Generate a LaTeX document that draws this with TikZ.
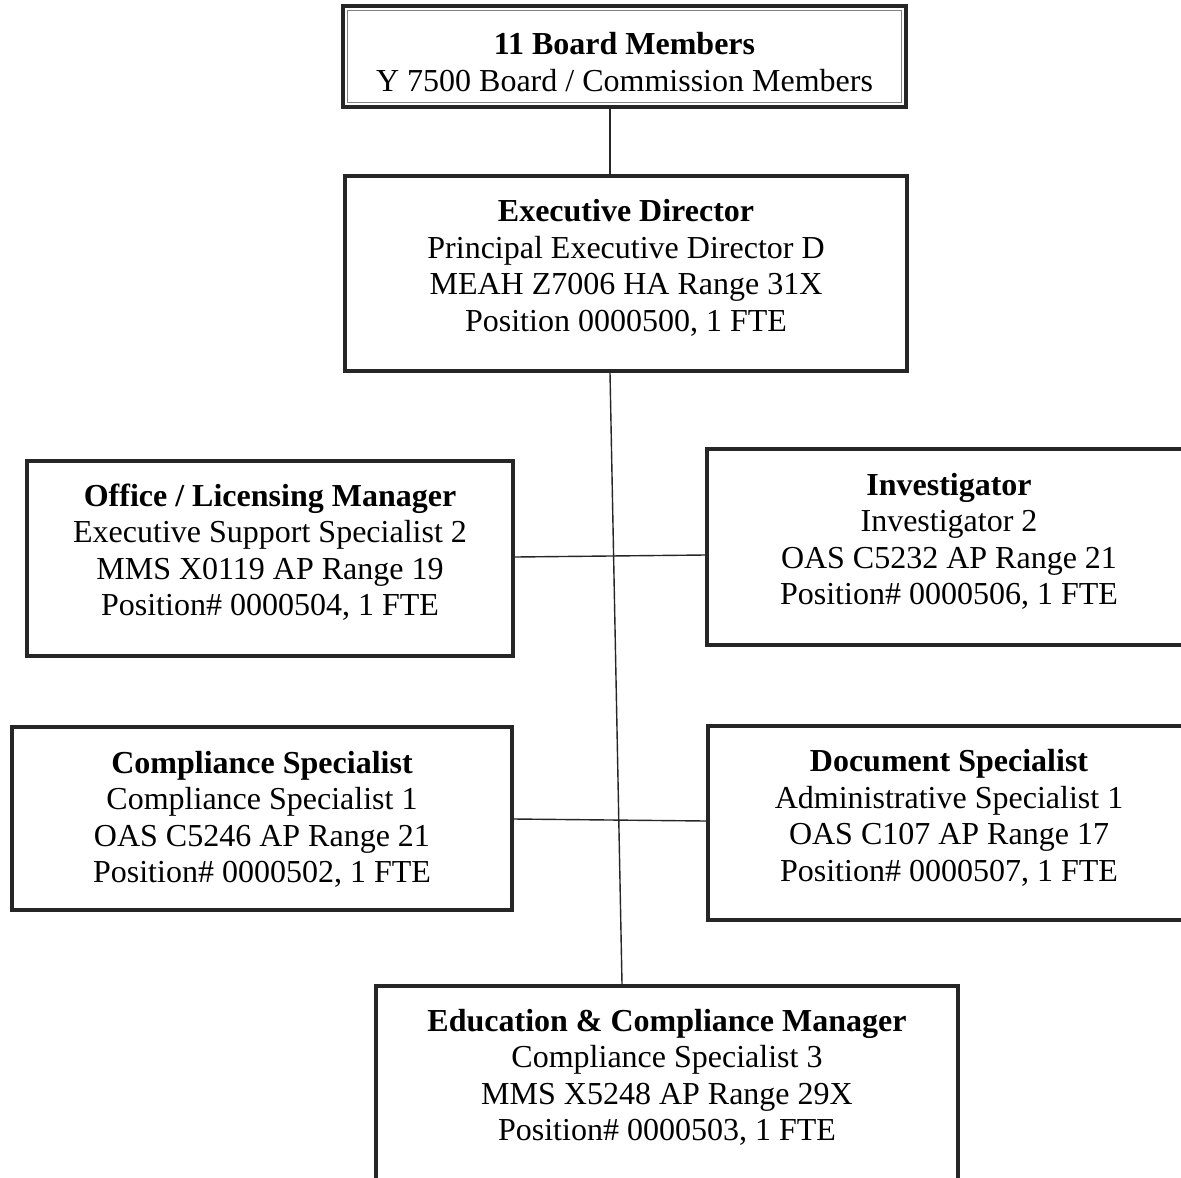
\documentclass[tikz,border=0pt]{standalone}
\usepackage{fontspec}
\setmainfont{Liberation Serif}
\tikzset{
	post/.style={draw=black!85,line width=2.2pt,fill=white,align=center,inner sep=0pt,font=\fontsize{16}{18.25}\selectfont},
	link/.style={draw=black!85,line width=.7pt}
}

\begin{document}
\begin{tikzpicture}[x=.5pt,y=-.5pt]
			\useasboundingbox[fill=white] (0,0) rectangle (1181,1177);
			\node[post,minimum width=281.5pt,minimum height=50.5pt,text height=36pt,text depth=1pt] (board) at (624.5,56.5) {\textbf{11 Board Members}\\Y 7500 Board / Commission Members};
			\draw[gray,line width=.5pt] ([shift={(3.5pt,-3.5pt)}]board.north west) rectangle ([shift={(-3.5pt,3.5pt)}]board.south east);
			\node[post,minimum width=281pt,minimum height=97.5pt,text depth=8pt] (director) at (626,273.5) {\textbf{Executive Director}\\Principal Executive Director D\\MEAH Z7006 HA Range 31X\\Position 0000500, 1 FTE};
			\node[post,minimum width=243pt,minimum height=97.5pt,text depth=9pt] (office) at (270,558.5) {\textbf{Office / Licensing Manager}\\Executive Support Specialist 2\\MMS X0119 AP Range 19\\Position\# 0000504, 1 FTE};
			\node[post,minimum width=242pt,minimum height=98pt,text depth=8pt] (investigator) at (949,547) {\textbf{Investigator}\\Investigator 2\\OAS C5232 AP Range 21\\Position\# 0000506, 1 FTE};
			\node[post,minimum width=250pt,minimum height=91.5pt,text depth=1.5pt] (compliance) at (262,818.5) {\textbf{Compliance Specialist}\\Compliance Specialist 1\\OAS C5246 AP Range 21\\Position\# 0000502, 1 FTE};
			\node[post,minimum width=241pt,minimum height=97pt,text depth=7.5pt] (document) at (949,823) {\textbf{Document Specialist}\\Administrative Specialist 1\\OAS C107 AP Range 17\\Position\# 0000507, 1 FTE};
			\node[post,minimum width=291pt,minimum height=100pt,text depth=11pt] (education) at (667,1086) {\textbf{Education \& Compliance Manager}\\Compliance Specialist 3\\MMS X5248 AP Range 29X\\Position\# 0000503, 1 FTE};
			% reporting lines
			\draw[link] ([xshift=-7.25pt]board.south) -- ([xshift=-8pt]director.north);
			\draw[link] ([xshift=-8pt]director.south) -- ([xshift=-22.5pt]education.north);
			\draw[link] ([yshift=.75pt]office.east) -- ([yshift=-4pt]investigator.west);
			\draw[link] ([yshift=-.25pt]compliance.east) -- ([yshift=1pt]document.west);
		\end{tikzpicture}
\end{document}
